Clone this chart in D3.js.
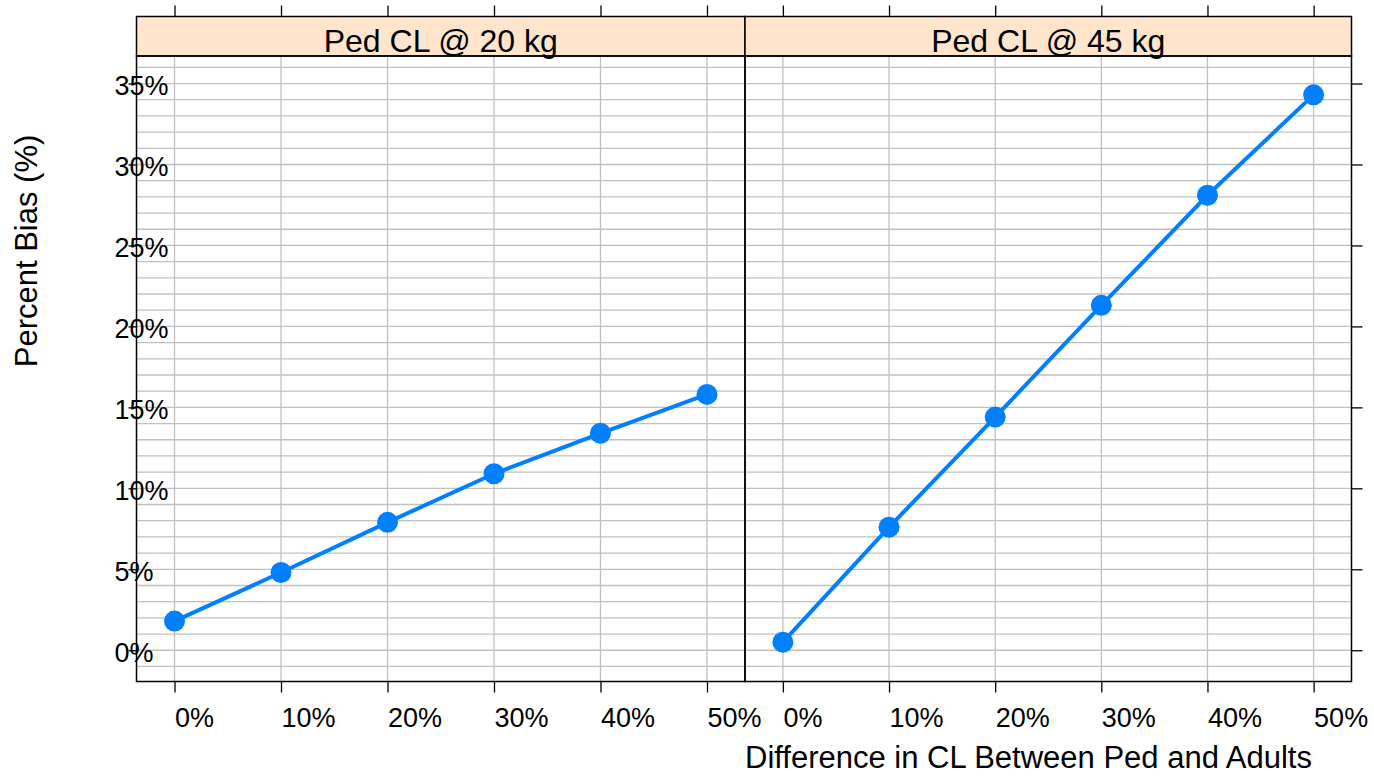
<!DOCTYPE html>
<html>
<head>
<meta charset="utf-8"/>
<script src="https://cdnjs.cloudflare.com/ajax/libs/d3/7.8.5/d3.min.js"></script>
<style>
  body { margin: 0; background: #fff; }
  text { font-family: "Liberation Sans", Arial, sans-serif; fill: #000; }
</style>
</head>
<body>
<script>
// data
const diffs = [0, 10, 20, 30, 40, 50];          // difference in CL (%)
const panelNames = ['Ped CL @ 20 kg', 'Ped CL @ 45 kg'];
const bias20 = [1.8, 4.8, 7.9, 10.9, 13.4, 15.8];
const bias45 = [0.5, 7.6, 14.4, 21.3, 28.1, 34.3];
const yTicks = [0, 5, 10, 15, 20, 25, 30, 35];
const xTicks = [0, 10, 20, 30, 40, 50];

const svgW = 1374, svgH = 776;
const panelTop = 56, panelBottom = 681.5, stripTop = 16.5;
const panelX = [136.5, 745, 1351.5];

const svg = d3.select('body').append('svg')
  .attr('width', svgW).attr('height', svgH);

const y = d3.scaleLinear().domain([-1.93, 36.7]).range([panelBottom, panelTop]);

const series = [bias20, bias45];
const fmt = d => d + '%';

series.forEach((vals, i) => {
  const x0 = panelX[i], x1 = panelX[i + 1];
  const x = d3.scaleLinear().domain([-3.57, 53.57]).range([x0, x1]);
  const g = svg.append('g');

  // grid
  g.selectAll('line.h').data(d3.range(-1, 37)).enter().append('line')
    .attr('x1', x0).attr('x2', x1)
    .attr('y1', d => y(d)).attr('y2', d => y(d))
    .attr('stroke', '#c0c0c0').attr('stroke-width', 1.3);
  g.selectAll('line.v').data(xTicks).enter().append('line')
    .attr('x1', d => x(d)).attr('x2', d => x(d))
    .attr('y1', panelTop).attr('y2', panelBottom)
    .attr('stroke', '#c0c0c0').attr('stroke-width', 1.3);

  // line + points
  const pts = diffs.map((d, k) => [d, vals[k]]);
  g.append('path').datum(pts)
    .attr('fill', 'none').attr('stroke', '#0080ff').attr('stroke-width', 4)
    .attr('d', d3.line().x(d => x(d[0])).y(d => y(d[1])));
  g.selectAll('circle').data(pts).enter().append('circle')
    .attr('cx', d => x(d[0])).attr('cy', d => y(d[1]))
    .attr('r', 10.5).attr('fill', '#0080ff');

  // strip
  g.append('rect').attr('x', x0).attr('y', stripTop)
    .attr('width', x1 - x0).attr('height', panelTop - stripTop)
    .attr('fill', '#ffe5cc').attr('stroke', '#000').attr('stroke-width', 1.5);
  g.append('text').attr('x', (x0 + x1) / 2).attr('y', 52)
    .attr('text-anchor', 'middle').attr('font-size', 32)
    .text(panelNames[i]);

  // panel border
  g.append('rect').attr('x', x0).attr('y', panelTop)
    .attr('width', x1 - x0).attr('height', panelBottom - panelTop)
    .attr('fill', 'none').attr('stroke', '#000').attr('stroke-width', 1.5);

  // x axes, top and bottom
  const xb = svg.append('g').attr('transform', `translate(0,${panelBottom})`)
    .call(d3.axisBottom(x).tickValues(xTicks).tickSize(11).tickFormat(fmt));
  xb.select('.domain').remove();
  xb.selectAll('.tick line').attr('stroke', '#000').attr('stroke-width', 1.3);
  xb.selectAll('.tick text').attr('text-anchor', 'start')
    .attr('y', 45.5).attr('dy', null).attr('font-size', 27)
    .style('font-family', '"Liberation Sans", Arial, sans-serif');

  const xt = svg.append('g').attr('transform', `translate(0,${stripTop})`)
    .call(d3.axisTop(x).tickValues(xTicks).tickSize(11).tickFormat(''));
  xt.select('.domain').remove();
  xt.selectAll('.tick line').attr('stroke', '#000').attr('stroke-width', 1.3);

  // y axis: left panel gets labels on the left, right panel ticks on the right
  if (i === 0) {
    const yl = svg.append('g').attr('transform', `translate(${x0},0)`)
      .call(d3.axisLeft(y).tickValues(yTicks).tickSize(8).tickFormat(fmt));
    yl.select('.domain').remove();
    yl.selectAll('.tick line').attr('stroke', '#000').attr('stroke-width', 1.3);
    yl.selectAll('.tick text').attr('text-anchor', 'start')
      .attr('x', -22).attr('dy', '0.42em').attr('font-size', 27)
      .style('font-family', '"Liberation Sans", Arial, sans-serif');
  } else {
    const yr = svg.append('g').attr('transform', `translate(${x1},0)`)
      .call(d3.axisRight(y).tickValues(yTicks).tickSize(11).tickFormat(''));
    yr.select('.domain').remove();
    yr.selectAll('.tick line').attr('stroke', '#000').attr('stroke-width', 1.3);
  }
});

// axis titles
svg.append('text')
  .attr('transform', 'translate(37,251) rotate(-90)')
  .attr('text-anchor', 'middle').attr('font-size', 31)
  .text('Percent Bias (%)');
svg.append('text')
  .attr('x', 745).attr('y', 768)
  .attr('font-size', 31)
  .text('Difference in CL Between Ped and Adults');
</script>
</body>
</html>
